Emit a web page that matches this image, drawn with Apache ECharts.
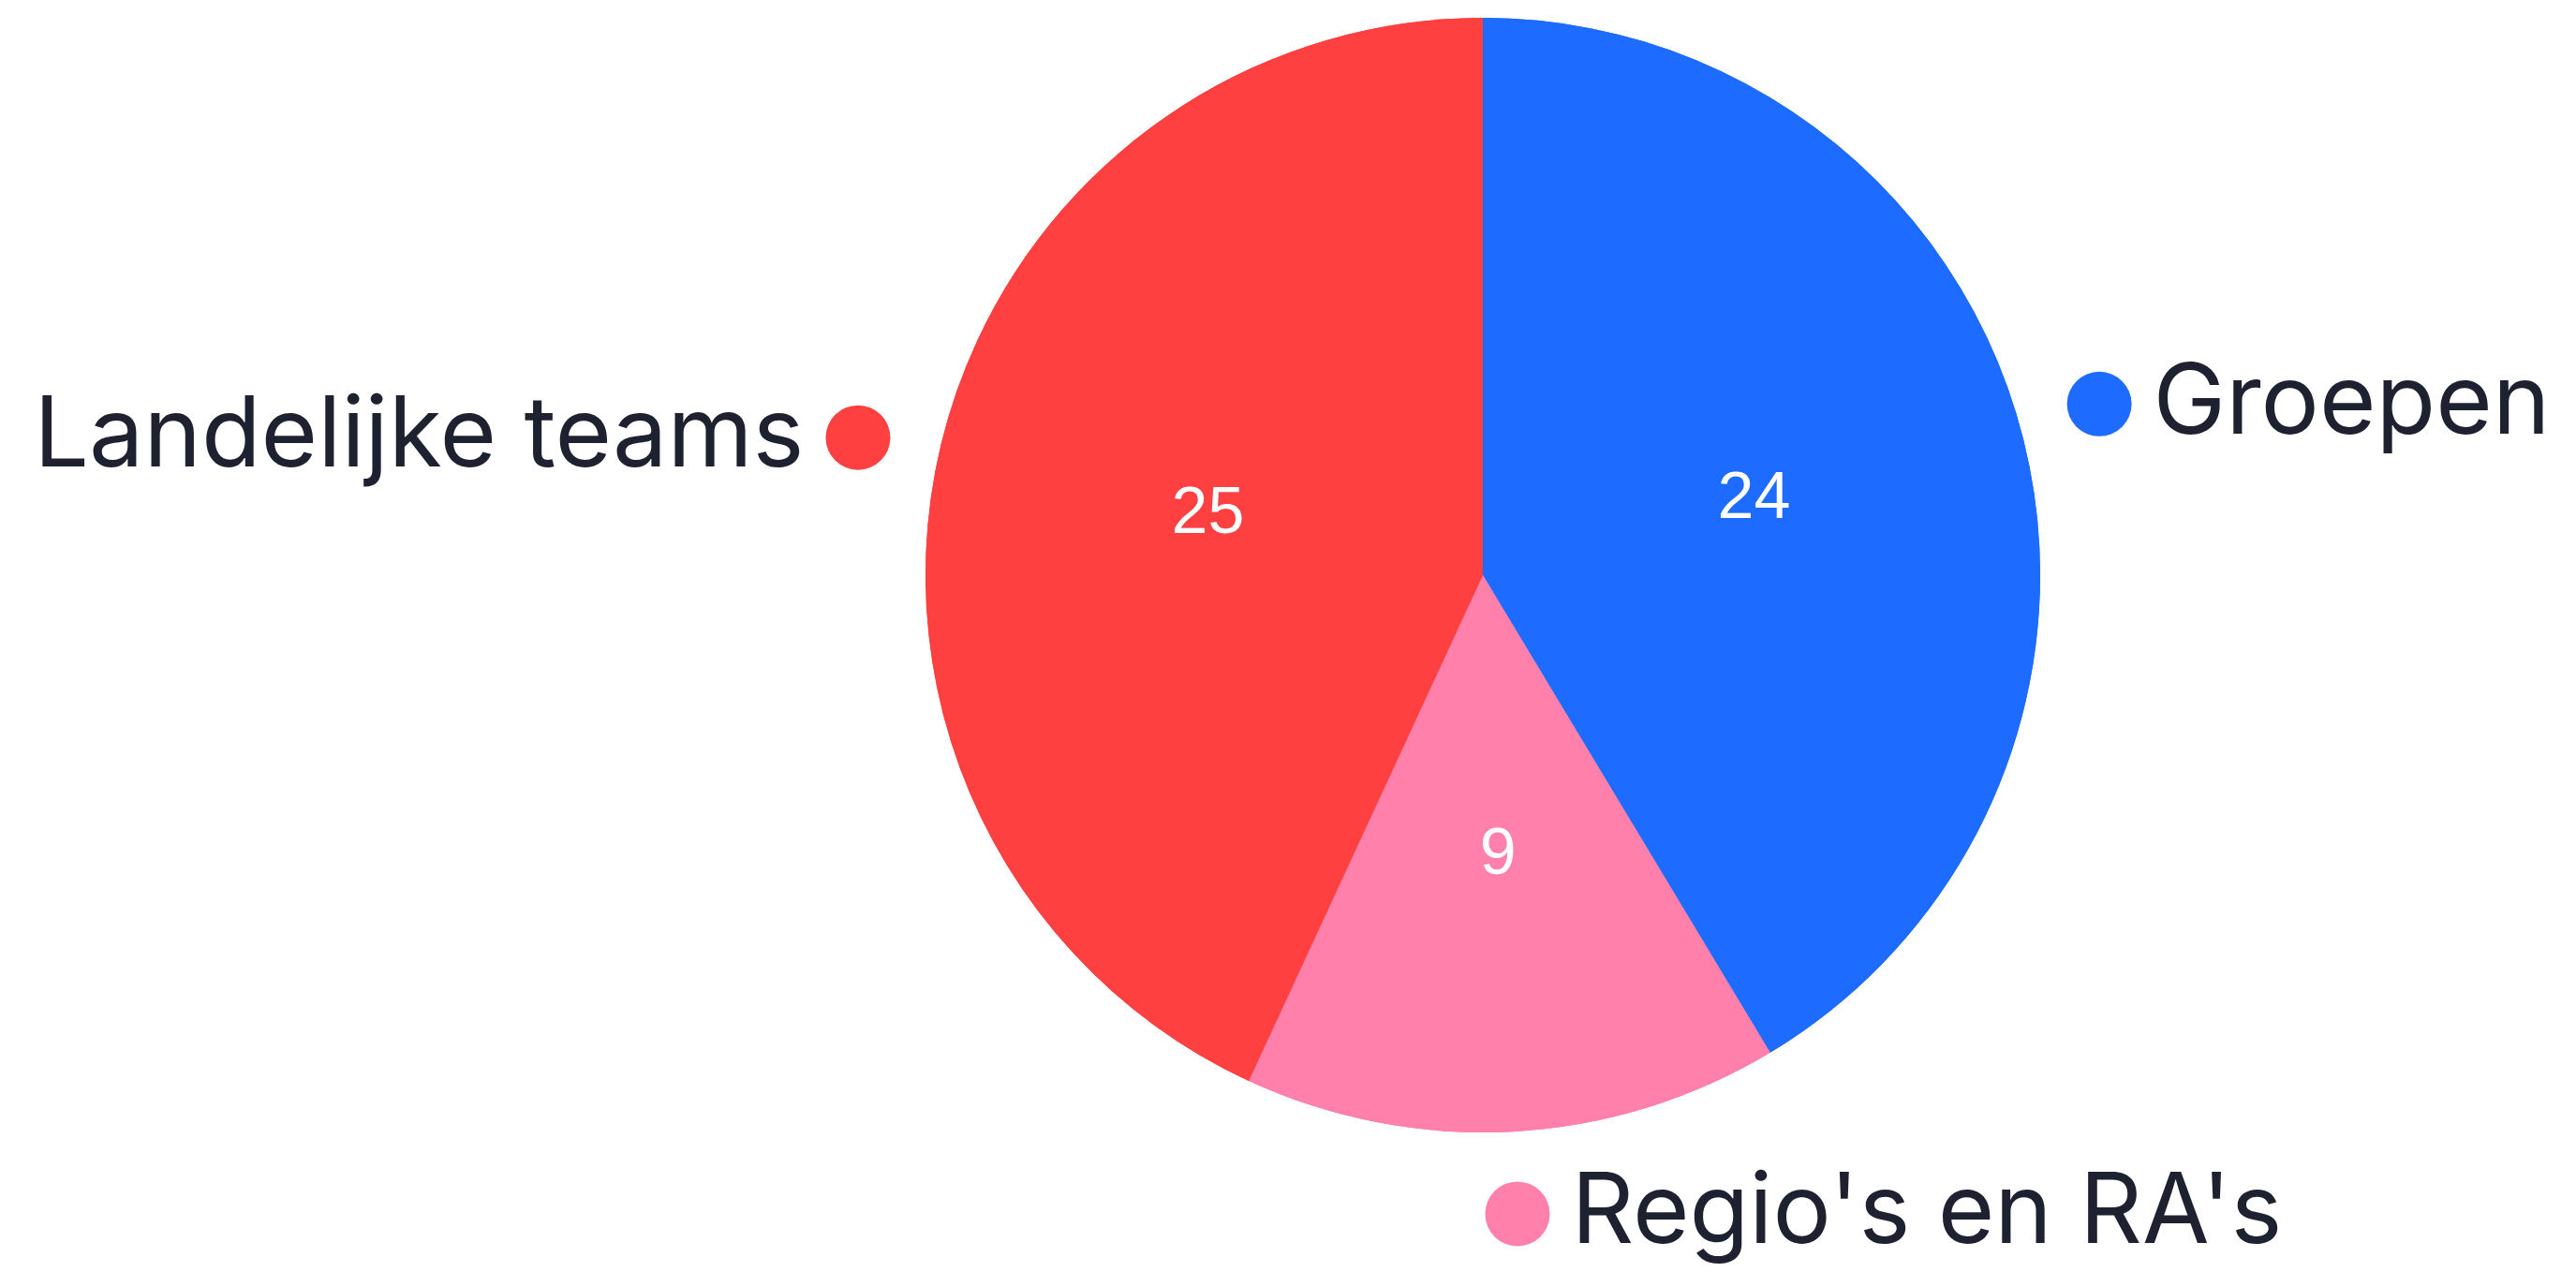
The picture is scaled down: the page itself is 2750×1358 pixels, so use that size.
<!DOCTYPE html>
<html><head><meta charset="utf-8">
<script src="https://cdn.jsdelivr.net/npm/echarts@6/dist/echarts.min.js"></script>
<style>html,body{margin:0;padding:0;background:#ffffff}#c{width:2750px;height:1358px}</style>
</head><body><div id="c"></div>
<script>
// ---- data ----
const categories = ['Groepen', "Regio's en RA's", 'Landelijke teams'];
const values = [24, 9, 25];
const colors = ['#1E6BFF', '#FF80AA', '#FF4040'];

const chart = echarts.init(document.getElementById('c'), null, {renderer: 'canvas'});
const total = values.reduce((a, b) => a + b, 0);
const DOT = 69;
let acc = 0;
const outerData = categories.map((name, i) => {
  const mid = (acc + values[i] / 2) / total * 2 * Math.PI;
  acc += values[i];
  const leftSide = Math.sin(mid) < 0;
  return {
    name: name, value: values[i],
    itemStyle: {color: colors[i]},
    label: {
      formatter: leftSide ? '{name|{b}}{sp|}{dot|}' : '{dot|}{sp|}{name|{b}}',
      rich: {
        dot: {width: DOT, height: DOT, borderRadius: DOT / 2, backgroundColor: colors[i]},
        sp: {width: 23, height: DOT},
        name: {fontFamily: 'Inter', fontSize: 104, color: '#1E2230', lineHeight: 110}
      }
    }
  };
});
const innerData = categories.map((name, i) => ({name: name, value: values[i], itemStyle: {color: colors[i]}}));

chart.setOption({
  backgroundColor: '#ffffff',
  animation: false,
  series: [
    {
      type: 'pie', center: [1583, 614], radius: 595, startAngle: 90, clockwise: true,
      avoidLabelOverlap: false, silent: true,
      itemStyle: {borderWidth: 0},
      label: {show: true, position: 'outside', distanceToLabelLine: 0},
      labelLine: {show: false, length: 88, length2: -DOT / 2},
      data: outerData
    },
    {
      type: 'pie', center: [1583, 614], radius: 595, startAngle: 90, clockwise: true,
      avoidLabelOverlap: false, silent: true,
      itemStyle: {borderWidth: 0},
      label: {show: true, position: 'inside', formatter: '{c}', color: '#ffffff',
        fontFamily: 'Liberation Sans', fontSize: 70, textBorderWidth: 0, padding: [14, 0, 0, 0]},
      labelLine: {show: false},
      data: innerData
    }
  ]
});
</script></body></html>
